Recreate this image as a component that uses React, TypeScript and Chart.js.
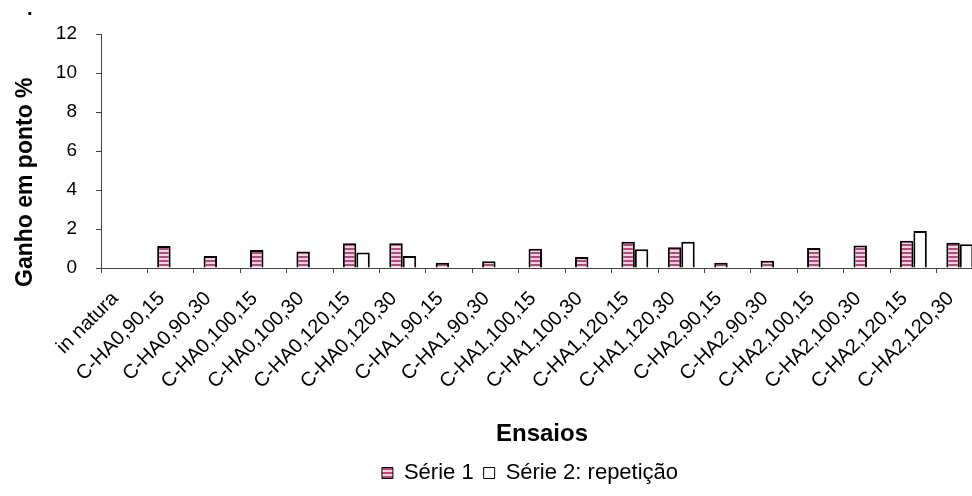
import React, { useEffect, useRef } from 'react';
import { Chart, registerables } from 'chart.js';

Chart.register(...registerables);

const categories = [
  'in natura',
  'C-HA0,90,15',
  'C-HA0,90,30',
  'C-HA0,100,15',
  'C-HA0,100,30',
  'C-HA0,120,15',
  'C-HA0,120,30',
  'C-HA1,90,15',
  'C-HA1,90,30',
  'C-HA1,100,15',
  'C-HA1,100,30',
  'C-HA1,120,15',
  'C-HA1,120,30',
  'C-HA2,90,15',
  'C-HA2,90,30',
  'C-HA2,100,15',
  'C-HA2,100,30',
  'C-HA2,120,15',
  'C-HA2,120,30',
];

const serie1: (number | null)[] = [
  null, 1.13, 0.62, 0.92, 0.84, 1.27, 1.27, 0.27, 0.34, 0.99,
  0.56, 1.35, 1.06, 0.27, 0.37, 1.03, 1.16, 1.4, 1.3,
];

const serie2: (number | null)[] = [
  null, null, null, null, null, 0.8, 0.62, null, null, null,
  null, 0.96, 1.35, null, null, null, null, 1.9, 1.22,
];

const seriesNames = ['Série 1', 'Série 2: repetição'];
const yMin = 0;
const yMax = 12;
const yStep = 2;
const chartTitle = '.';
const yAxisTitle = 'Ganho em ponto %';
const xAxisTitle = 'Ensaios';

const FONT = '"Liberation Sans", Arial, Helvetica, sans-serif';

function makeStripePattern(): CanvasPattern | string {
  const c = document.createElement('canvas');
  c.width = 4;
  c.height = 4;
  const g = c.getContext('2d');
  if (!g) return '#c0608f';
  g.fillStyle = '#f4d4e4';
  g.fillRect(0, 0, 4, 4);
  g.fillStyle = '#b5487f';
  g.fillRect(0, 0, 4, 2);
  return g.createPattern(c, 'repeat') || '#c0608f';
}

// Draws the chart title (".") and the y-axis title, placed relative to the plot area,
// and shifts the legend so it is centred like the original.
const titlesPlugin = {
  id: 'titlesPlugin',
  afterLayout(chart: any) {
    const lg = chart.legend;
    if (lg) {
      lg.left = chart.chartArea.left - 24;
      lg.width = lg.right - lg.left;
    }
  },
  afterDraw(chart: any) {
    const { ctx, chartArea } = chart;
    ctx.save();
    ctx.fillStyle = '#000';
    ctx.textBaseline = 'alphabetic';
    ctx.textAlign = 'left';
    ctx.font = `bold 20px ${FONT}`;
    ctx.fillText(chartTitle, chartArea.left - 74, chartArea.top - 19);
    ctx.font = `bold 23px ${FONT}`;
    ctx.translate(chartArea.left - 69, chartArea.bottom + 19);
    ctx.rotate(-Math.PI / 2);
    ctx.fillText(yAxisTitle, 0, 0);
    ctx.restore();
  },
};

export default function App() {
  const canvasRef = useRef<HTMLCanvasElement | null>(null);

  useEffect(() => {
    const canvas = canvasRef.current;
    if (!canvas) return;
    Chart.defaults.font.family = FONT;
    Chart.defaults.color = '#000';
    const stripe = makeStripePattern();

    const chart = new Chart(canvas, {
      type: 'bar',
      data: {
        labels: categories,
        datasets: [
          {
            label: seriesNames[0],
            data: serie1,
            backgroundColor: stripe as any,
            borderColor: '#000',
            borderWidth: 2,
            borderSkipped: 'bottom',
            categoryPercentage: 0.58,
            barPercentage: 1,
          },
          {
            label: seriesNames[1],
            data: serie2,
            backgroundColor: '#ffffff',
            borderColor: '#000',
            borderWidth: 2,
            borderSkipped: 'bottom',
            categoryPercentage: 0.58,
            barPercentage: 1,
          },
        ],
      },
      plugins: [titlesPlugin],
      options: {
        responsive: false,
        animation: false,
        maintainAspectRatio: false,
        layout: { padding: { left: 26, right: 77, top: 34, bottom: 2 } },
        plugins: {
          tooltip: { enabled: false },
          title: { display: false },
          legend: {
            position: 'bottom',
            labels: {
              color: '#000',
              font: { family: FONT, size: 22 },
              boxWidth: 11,
              boxHeight: 11,
              padding: 10,
              generateLabels: (ch: any) => {
                const base = (Chart.defaults.plugins.legend.labels as any).generateLabels(ch);
                return base.map((l: any) => ({ ...l, lineWidth: 1 }));
              },
            },
          },
        },
        scales: {
          x: {
            grid: {
              display: true,
              drawOnChartArea: false,
              offset: true,
              tickLength: 5,
              color: '#444',
            },
            border: { display: true, color: '#444', width: 1 },
            ticks: {
              color: '#000',
              font: { family: FONT, size: 20 },
              minRotation: 45,
              maxRotation: 45,
              autoSkip: false,
              padding: 14,
              labelOffset: -9,
            },
            title: {
              display: true,
              text: xAxisTitle,
              color: '#000',
              font: { family: FONT, size: 24, weight: 'bold' },
              padding: { top: 0, bottom: 3 },
            },
            afterFit: (scale: any) => {
              scale.height = 184;
            },
          },
          y: {
            min: yMin,
            max: yMax,
            grid: {
              display: true,
              drawOnChartArea: false,
              tickLength: 5,
              color: '#444',
            },
            border: { display: true, color: '#444', width: 1 },
            ticks: {
              stepSize: yStep,
              color: '#000',
              font: { family: FONT, size: 19 },
              padding: 19,
            },
            title: { display: false },
            afterFit: (scale: any) => {
              scale.width = 75;
            },
          },
        },
      },
    });

    return () => {
      chart.destroy();
    };
  }, []);

  return (
    <div
      style={{
        position: 'fixed',
        left: 0,
        top: 0,
        width: 972,
        height: 496,
        overflow: 'hidden',
        background: '#fff',
      }}
    >
      <canvas
        ref={canvasRef}
        width={1060}
        height={496}
        style={{ position: 'absolute', left: 0, top: 0, width: 1060, height: 496 }}
      />
    </div>
  );
}
